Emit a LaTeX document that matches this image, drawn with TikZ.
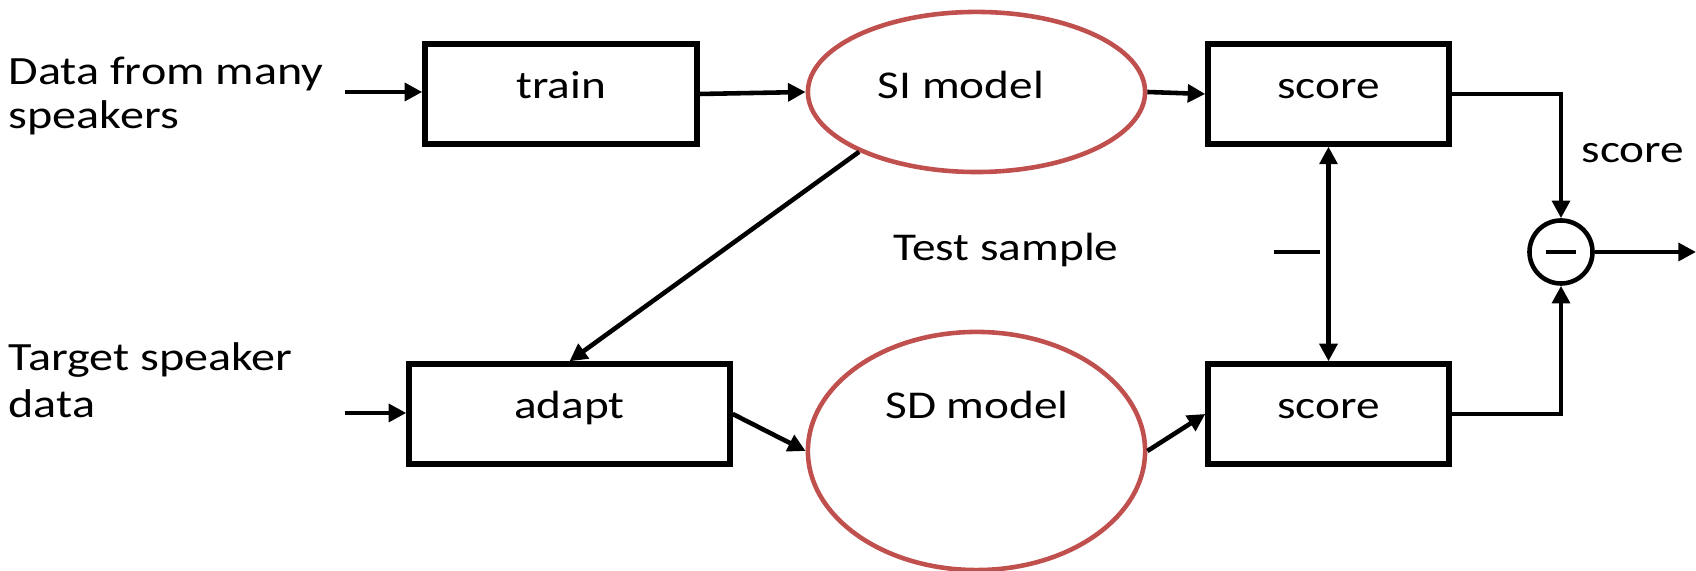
\documentclass[tikz,border=0pt]{standalone}
\usepackage{fontspec}
\setmainfont{Carlito}[FakeStretch=1.2]
\usetikzlibrary{shapes.geometric,arrows.meta}
\definecolor{modelred}{RGB}{192,80,77}

\begin{document}
\begin{tikzpicture}[x = 0.01cm, y = -0.01cm,
    font = \fontsize{11.2}{12.8}\selectfont,
    box/.style = {draw, line width = 1.5pt, minimum height = 1cm, inner sep = 0pt,
      text height = 0.3cm, text depth = 0.2cm},
    model/.style = {ellipse, draw = modelred, line width = 1.3pt, minimum width = 3.37cm, inner sep = 0pt},
    conn/.style = {-{Triangle[length = 5pt, width = 5pt]}, line width = 1.3pt},
    both/.style = {{Triangle[length = 5pt, width = 5pt]}-{Triangle[length = 5pt, width = 5pt]}, line width = 1.3pt}]
        \useasboundingbox (0,0) rectangle (1696,571);
        \node (many) [anchor = base west, align = left, inner sep = 0pt,
          font = \fontsize{11.4}{12.6}\selectfont] at (8,129) {Data from many\\speakers};
        \node (target) [anchor = base west, align = left, inner sep = 0pt,
          font = \fontsize{11.4}{13.6}\selectfont] at (8,418) {Target speaker\\data};
        \node (train) [box, minimum width = 2.72cm] at (561,94) {train};
        \node (adapt) [box, minimum width = 3.21cm] at (569.5,414) {adapt};
        \node (si) [model, minimum height = 1.6cm] at (976.5,92) {};
        \node (sd) [model, minimum height = 2.38cm] at (976.5,451) {};
        \node (silabel) [anchor = base] at (961,99) {SI model};
        \node (sdlabel) [anchor = base] at (977,419) {SD model};
        \node (test) [anchor = base] at (1006,261) {Test sample};
        \node (score1) [box, minimum width = 2.41cm] at (1328.5,94) {score};
        \node (score2) [box, minimum width = 2.41cm] at (1328.5,414) {score};
        \node (minus) [inner sep = 0pt] at (1297,252) {\rule{0.46cm}{0.045cm}};
        \node (diff) [circle, draw, line width = 1.3pt, minimum size = 0.63cm, inner sep = 0pt] at (1561,252) {\rule{0.3cm}{0.045cm}};
        \node (outlabel) [anchor = base] at (1633,163) {score};
        \coordinate (in1) at (345,92);
        \coordinate (in2) at (345,413);
        \coordinate (out) at (1696,252);
        \draw [conn] (in1) -- (in1 -| train.west);
        \draw [conn] (in2) -- (in2 -| adapt.west);
        \draw [conn] (train.east) -- (si.west);
        \draw [conn] (si.east) -- (score1.west);
        \draw [conn] (si.207) -- (adapt.north);
        \draw [conn] (adapt.east) -- (sd.west);
        \draw [conn] (sd.east) -- (score2.west);
        \draw [both] (score1.south) -- (score2.north);
        \draw [conn] (score1.east) -| (diff.north);
        \draw [conn] (score2.east) -| (diff.south);
        \draw [conn] (diff.east) -- (out);
      \end{tikzpicture}
\end{document}
